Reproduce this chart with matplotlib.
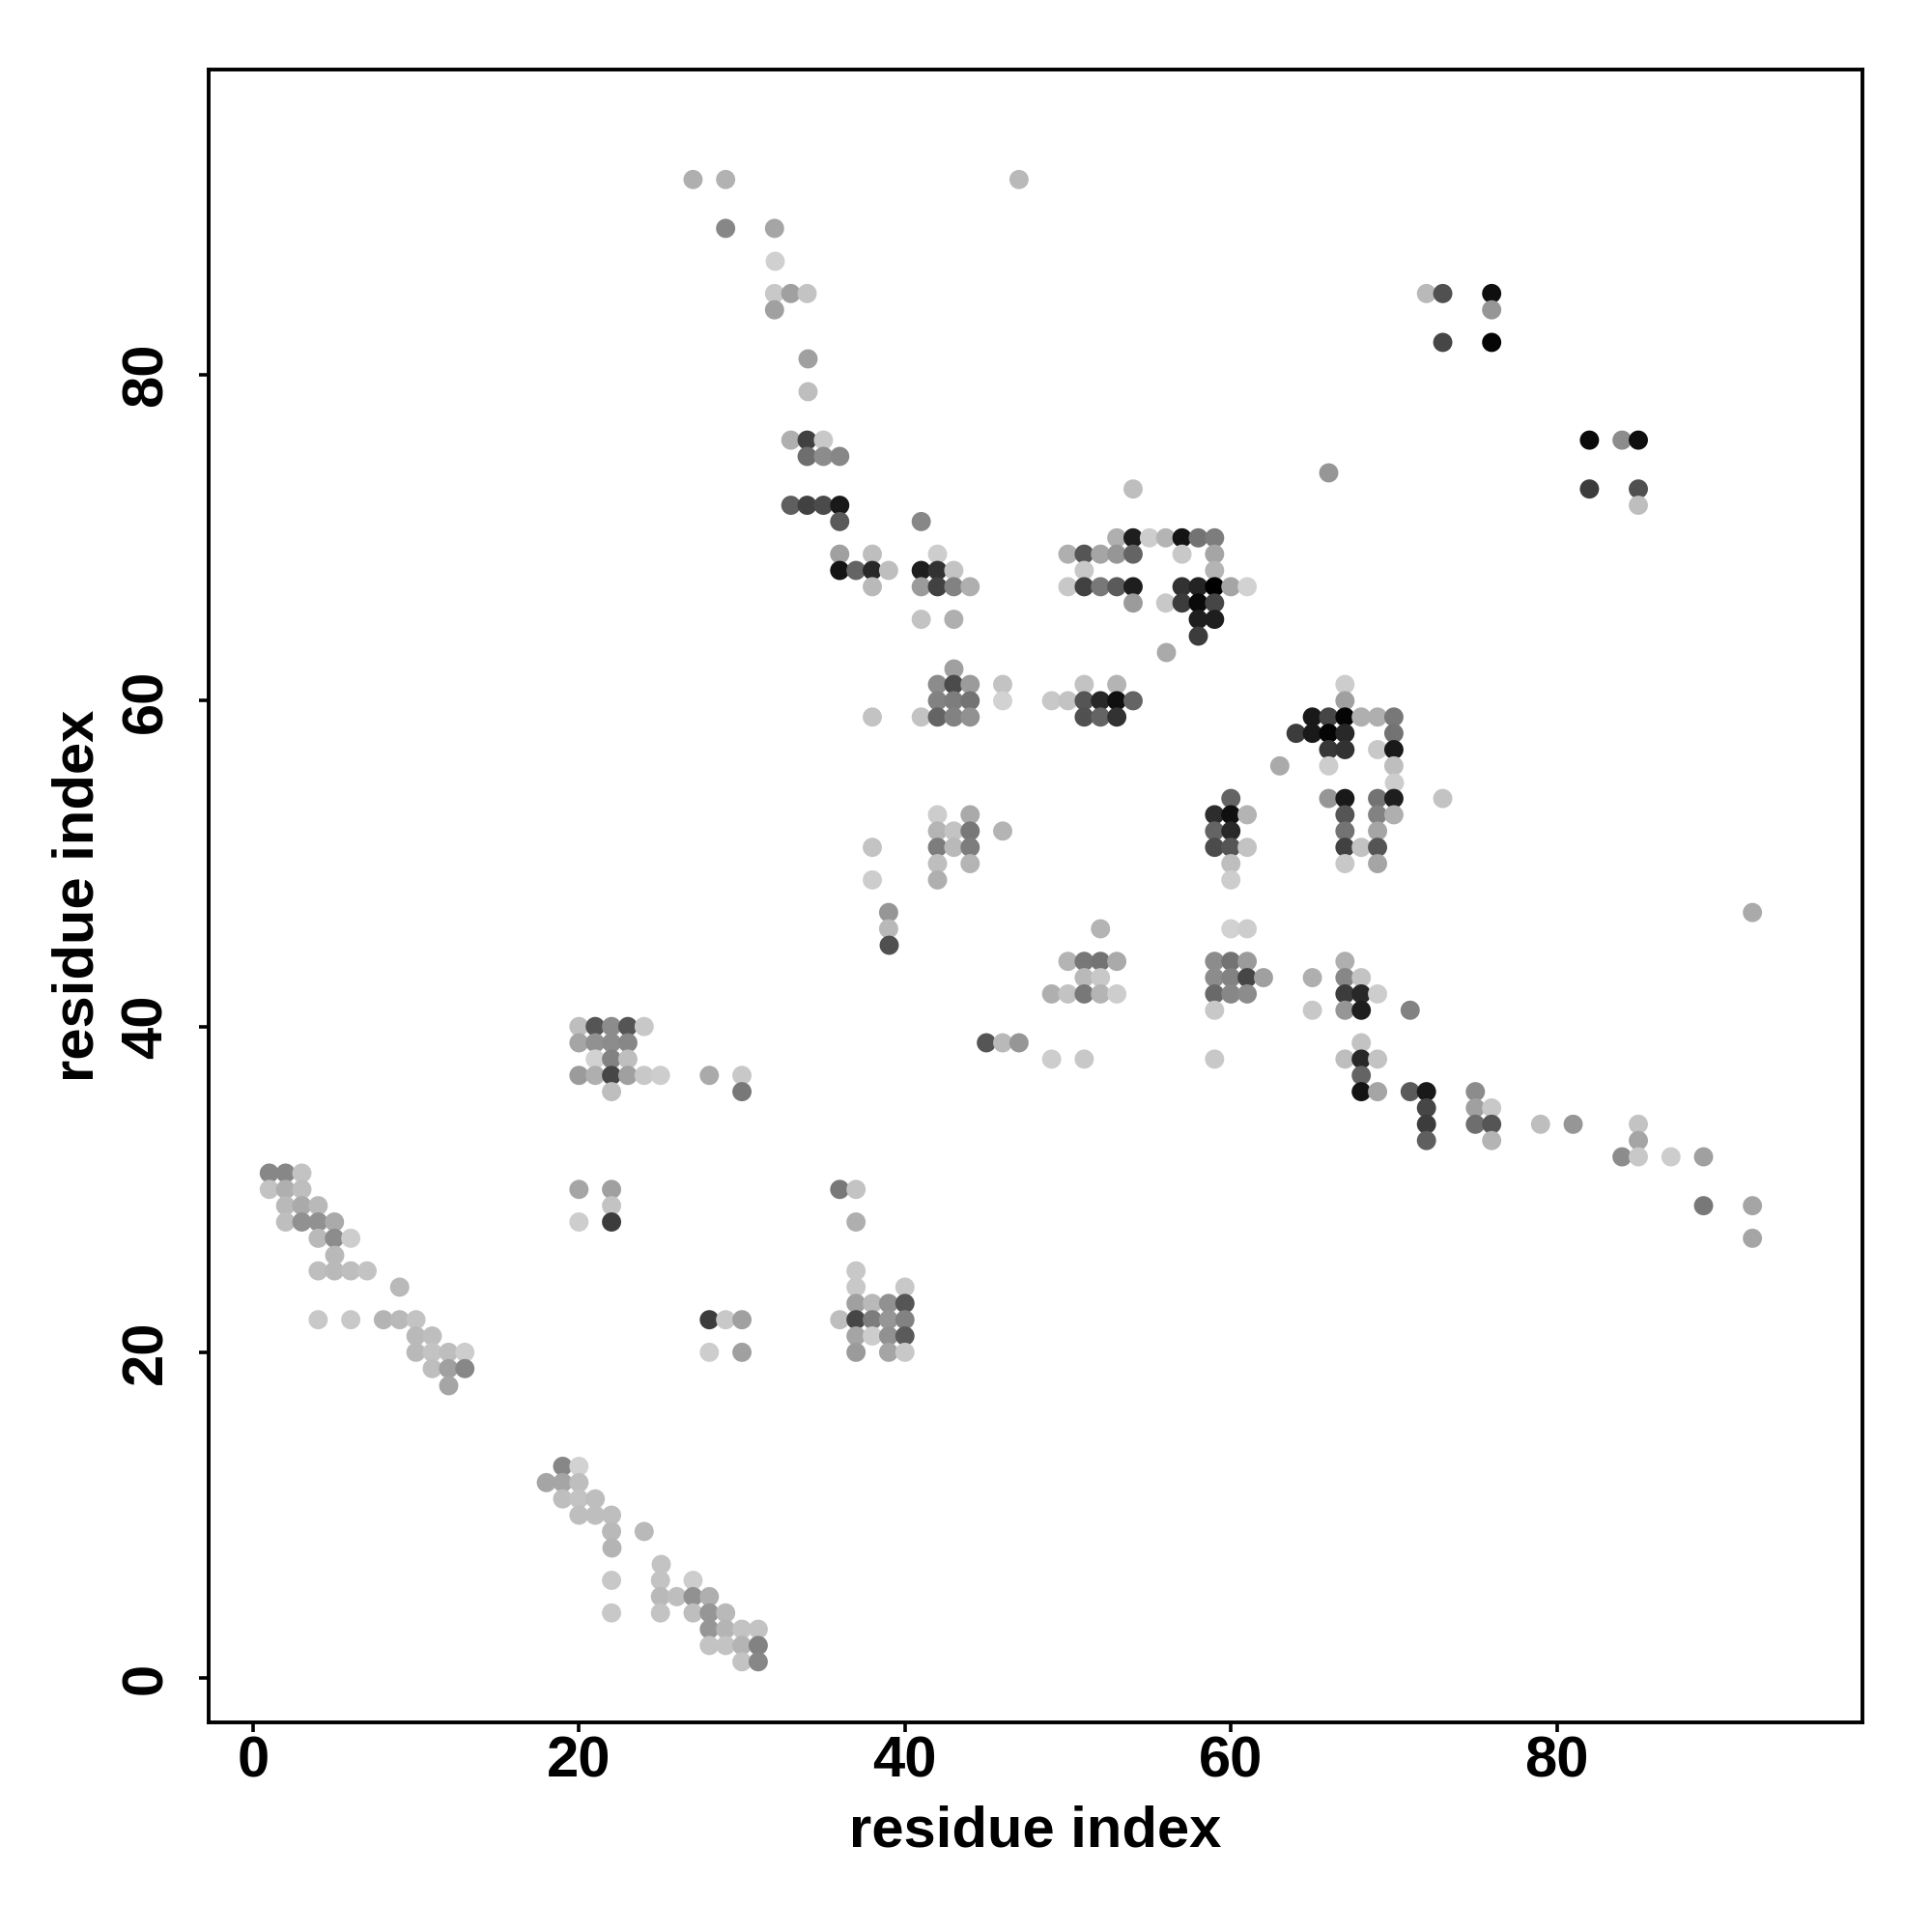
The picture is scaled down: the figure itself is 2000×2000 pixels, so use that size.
import matplotlib
matplotlib.use('Agg')
import matplotlib.pyplot as plt

# contact map, each row = one residue index on the y axis
row_y = [92, 89, 87, 85, 84, 82, 81, 79, 76, 75, 74, 73, 72, 71, 70, 69, 68, 67, 66, 65, 64, 63,
         62, 61, 60, 59, 58, 57, 56, 55, 54, 53, 52, 51, 50, 49, 47, 46, 45, 44, 43, 42, 41, 40,
         39, 38, 37, 36, 35, 34, 33, 32, 31, 30, 29, 28, 27, 26, 25, 24, 23, 22, 21, 20, 19, 18,
         13, 12, 11, 10, 9, 8, 7, 6, 5, 4, 3, 2, 1]

row_x = [
    [27, 29, 47],
    [29, 32],
    [32],
    [32, 33, 34, 72, 73, 76],
    [32, 76],
    [73, 76],
    [34],
    [34],
    [33, 34, 35, 82, 84, 85],
    [34, 35, 36],
    [66],
    [54, 82, 85],
    [33, 34, 35, 36, 85],
    [36, 41],
    [53, 54, 55, 56, 57, 58, 59],
    [36, 38, 42, 50, 51, 52, 53, 54, 57, 59],
    [36, 37, 38, 39, 41, 42, 43, 51, 59],
    [38, 41, 42, 43, 44, 50, 51, 52, 53, 54, 57, 58, 59, 60, 61],
    [54, 56, 57, 58, 59],
    [41, 43, 58, 59],
    [58],
    [56],
    [43],
    [42, 43, 44, 46, 51, 53, 67],
    [42, 43, 44, 46, 49, 50, 51, 52, 53, 54, 67],
    [38, 41, 42, 43, 44, 51, 52, 53, 65, 66, 67, 68, 69, 70],
    [64, 65, 66, 67, 70],
    [66, 67, 69, 70],
    [63, 66, 70],
    [70],
    [60, 66, 67, 69, 70, 73],
    [42, 44, 59, 60, 61, 67, 69, 70],
    [42, 43, 44, 46, 59, 60, 67, 69],
    [38, 42, 43, 44, 59, 60, 61, 67, 68, 69],
    [42, 44, 60, 67, 69],
    [38, 42, 60],
    [39, 92],
    [39, 52, 60, 61],
    [39],
    [50, 51, 52, 53, 59, 60, 61, 67],
    [51, 52, 59, 60, 61, 62, 65, 67, 68],
    [49, 50, 51, 52, 53, 59, 60, 61, 67, 68, 69],
    [59, 65, 67, 68, 71],
    [20, 21, 22, 23, 24],
    [20, 21, 22, 23, 45, 46, 47, 68],
    [21, 22, 23, 49, 51, 59, 67, 68, 69],
    [20, 21, 22, 23, 24, 25, 28, 30, 68],
    [22, 30, 68, 69, 71, 72, 75],
    [72, 75, 76],
    [72, 75, 76, 79, 81, 85],
    [72, 76, 85],
    [84, 85, 87, 89],
    [1, 2, 3],
    [1, 2, 3, 20, 22, 36, 37],
    [2, 3, 4, 22, 89, 92],
    [2, 3, 4, 5, 20, 22, 37],
    [4, 5, 6, 92],
    [5],
    [4, 5, 6, 7, 37],
    [9, 37, 40],
    [37, 38, 39, 40],
    [4, 6, 8, 9, 10, 28, 29, 30, 36, 37, 38, 39, 40],
    [10, 11, 37, 38, 39, 40],
    [10, 11, 12, 13, 28, 30, 37, 39, 40],
    [11, 12, 13],
    [12],
    [19, 20],
    [18, 19, 20],
    [19, 20, 21],
    [20, 21, 22],
    [22, 24],
    [22],
    [25],
    [22, 25, 27],
    [25, 26, 27, 28],
    [22, 25, 27, 28, 29],
    [28, 29, 30, 31],
    [28, 29, 30, 31],
    [30, 31],
]

# grey level 0-255 of every dot, same order as row_x
row_shade = [
    [175, 178, 185],
    [135, 165],
    [208],
    [200, 160, 195, 185, 80, 15],
    [160, 150],
    [70, 5],
    [160],
    [190],
    [175, 65, 200, 10, 140, 15],
    [110, 140, 135],
    [150],
    [190, 60, 80],
    [95, 65, 75, 25, 190],
    [90, 135],
    [175, 30, 205, 180, 20, 115, 125],
    [160, 190, 205, 175, 85, 165, 150, 100, 200, 165],
    [20, 100, 40, 190, 30, 50, 195, 200, 180],
    [185, 155, 65, 130, 175, 200, 65, 120, 90, 30, 50, 35, 0, 165, 210],
    [155, 200, 60, 10, 70],
    [195, 175, 30, 30],
    [60],
    [170],
    [160],
    [140, 75, 155, 195, 195, 180, 205],
    [130, 125, 115, 210, 200, 195, 85, 40, 15, 100, 160],
    [195, 195, 100, 130, 145, 80, 100, 50, 25, 70, 5, 175, 175, 120],
    [60, 25, 5, 40, 115],
    [55, 50, 200, 25],
    [170, 205, 190],
    [205],
    [100, 150, 25, 115, 30, 195],
    [205, 170, 45, 15, 180, 85, 130, 175],
    [180, 195, 120, 180, 100, 40, 115, 165],
    [195, 125, 185, 125, 75, 85, 195, 65, 195, 85],
    [190, 180, 190, 200, 165],
    [205, 175, 205],
    [150, 170],
    [185, 180, 210, 205],
    [80],
    [180, 120, 115, 170, 140, 115, 155, 175],
    [185, 200, 140, 130, 70, 160, 175, 135, 195],
    [175, 195, 120, 180, 205, 105, 135, 140, 60, 40, 205],
    [200, 200, 150, 30, 130],
    [190, 85, 140, 85, 200],
    [165, 145, 140, 135, 85, 185, 150, 195],
    [210, 130, 190, 205, 200, 200, 190, 40, 195],
    [155, 175, 70, 160, 200, 205, 170, 200, 100],
    [190, 120, 20, 165, 90, 25, 140],
    [70, 160, 200],
    [60, 110, 85, 190, 150, 195],
    [95, 180, 165],
    [140, 200, 205, 160],
    [135, 135, 195],
    [195, 175, 190, 165, 160, 120, 195],
    [185, 170, 185, 195, 120, 165],
    [190, 145, 145, 170, 205, 60, 175],
    [185, 140, 205, 165],
    [185],
    [190, 185, 190, 195, 200],
    [185, 200, 200],
    [160, 185, 145, 85],
    [200, 200, 180, 185, 195, 60, 200, 160, 190, 70, 125, 150, 130],
    [185, 190, 165, 205, 145, 90],
    [185, 195, 190, 205, 205, 160, 155, 165, 200],
    [190, 160, 135],
    [165],
    [135, 210],
    [165, 165, 190],
    [190, 195, 190],
    [190, 190, 190],
    [185, 185],
    [180],
    [195],
    [200, 195, 205],
    [185, 190, 145, 175],
    [200, 195, 190, 150, 185],
    [150, 180, 195, 195],
    [195, 195, 180, 130],
    [195, 135],
]

x_ticks = [0, 20, 40, 60, 80]
y_ticks = [0, 20, 40, 60, 80]
axis_label = 'residue index'

plt.rcParams['font.family'] = ['Liberation Sans', 'DejaVu Sans']
plt.rcParams['font.weight'] = 'bold'

fig = plt.figure(figsize=(20, 20), dpi=100)
ax = fig.add_axes([216 / 2000, 1 - 1783 / 2000, (1928 - 216) / 2000, (1783 - 72) / 2000])

for y, xs, shades in zip(row_y, row_x, row_shade):
    colors = [(s / 255, s / 255, s / 255) for s in shades]
    ax.scatter(xs, [y] * len(xs), s=205, c=colors, linewidths=0, zorder=2)

ax.set_xlim(-2.72, 98.75)
ax.set_ylim(-2.72, 98.75)

ax.set_xticks(x_ticks)
ax.set_yticks(y_ticks)
ax.tick_params(axis='both', length=7.5, width=2.6, labelsize=43, pad=19)
ax.tick_params(axis='x', pad=2.5)
for lab in ax.get_yticklabels():
    lab.set_rotation(90)
    lab.set_va('center')

ax.set_xlabel(axis_label, fontsize=43, fontweight='bold', labelpad=12)
ax.set_ylabel(axis_label, fontsize=43, fontweight='bold', labelpad=11)

for side in ax.spines.values():
    side.set_linewidth(2.8)

fig.savefig('out.png', dpi=100, facecolor='white')
